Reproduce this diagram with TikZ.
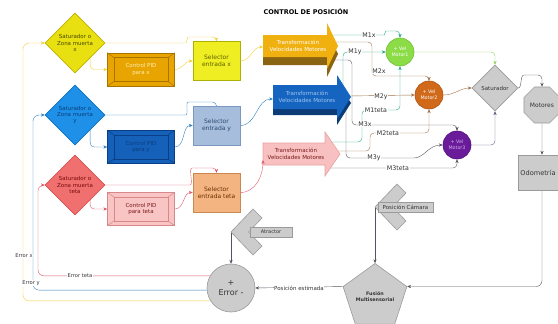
\documentclass[tikz,border=0pt]{standalone}
\usepackage{fontspec}
\setmainfont{DejaVu Sans}
\usetikzlibrary{shapes.geometric,arrows.meta,calc}
\pgfdeclarelayer{bg}
\pgfsetlayers{bg,main}
\definecolor{cYel}{HTML}{E8E010}\definecolor{cYelD}{HTML}{C0B000}\definecolor{cYelT}{HTML}{4A4A00}
\definecolor{cPidX}{HTML}{E8A400}\definecolor{cPidXD}{HTML}{A87400}\definecolor{cPidXT}{HTML}{FFF0B0}
\definecolor{cSelX}{HTML}{EEEE22}\definecolor{cSelXD}{HTML}{B0B000}\definecolor{cSelXT}{HTML}{606000}
\definecolor{cGold}{HTML}{F0B010}\definecolor{cGoldS}{HTML}{8A6410}
\definecolor{cBlu}{HTML}{1E90E8}\definecolor{cBluD}{HTML}{1070C0}\definecolor{cBluT}{HTML}{0B3D7A}
\definecolor{cPidY}{HTML}{1560B8}\definecolor{cPidYD}{HTML}{0A3F85}\definecolor{cPidYT}{HTML}{0A3F80}
\definecolor{cSelY}{HTML}{A6BEDC}\definecolor{cSelYD}{HTML}{7A98C0}\definecolor{cSelYT}{HTML}{2A4A70}
\definecolor{cBArr}{HTML}{1565C0}\definecolor{cBArrS}{HTML}{0B3C78}\definecolor{cBArrT}{HTML}{A0C4F0}
\definecolor{cPnk}{HTML}{F07070}\definecolor{cPnkD}{HTML}{D85050}\definecolor{cPnkT}{HTML}{7A0A0A}
\definecolor{cPidT}{HTML}{F8C4C4}\definecolor{cPidTD}{HTML}{D88888}\definecolor{cPidTT}{HTML}{7A1A1A}
\definecolor{cSelT}{HTML}{F4B482}\definecolor{cSelTD}{HTML}{C88850}\definecolor{cSelTT}{HTML}{6A3000}
\definecolor{cPArr}{HTML}{F8C0C0}\definecolor{cPArrD}{HTML}{E8A0A0}
\definecolor{cYL}{HTML}{F0D038}\definecolor{cBL}{HTML}{3080C0}\definecolor{cPL}{HTML}{E05A6C}
\definecolor{cTeal}{HTML}{22A880}\definecolor{cBrn}{HTML}{A0704A}\definecolor{cDG}{HTML}{55555F}
\definecolor{cGrn}{HTML}{8CDC48}\definecolor{cGrnD}{HTML}{70C030}\definecolor{cGrnL}{HTML}{8CD058}
\definecolor{cOrg}{HTML}{D06A1A}\definecolor{cOrgD}{HTML}{B05010}
\definecolor{cPur}{HTML}{6A1B9A}\definecolor{cPurD}{HTML}{501080}\definecolor{cPurT}{HTML}{D0B0F0}
\definecolor{cGry}{HTML}{CCCCCC}\definecolor{cGryD}{HTML}{9A9A9A}\definecolor{cTxt}{HTML}{333333}
\definecolor{cM3}{HTML}{5A5A80}
\newcommand\bevelbox[2]{%
  \draw[#2, line width=0.5pt] ($(#1.north west)+(7,5)$) rectangle ($(#1.south east)+(-7,-5)$);
  \draw[#2, line width=0.5pt] (#1.north west) -- ($(#1.north west)+(7,5)$)
    (#1.north east) -- ($(#1.north east)+(-7,5)$)
    (#1.south west) -- ($(#1.south west)+(7,-5)$)
    (#1.south east) -- ($(#1.south east)+(-7,-5)$);}
\begin{document}
\begin{tikzpicture}[x=1pt,y=-1pt,>={Stealth[length=3.8pt,width=3.2pt]},line width=0.9pt,
  every node/.style={font=\fontsize{5.5}{6.4}\selectfont,align=center,inner sep=0pt},
  dia/.style={diamond,aspect=1,minimum width=60,minimum height=60,line width=0.6pt},
  pid/.style={rectangle,minimum width=67,minimum height=33,line width=0.6pt},
  sel/.style={rectangle,minimum width=47,minimum height=39,line width=0.6pt,font=\fontsize{6}{7.4}\selectfont},
  motc/.style={circle,minimum size=28,line width=0.6pt,font=\fontsize{4.8}{5.8}\selectfont},
  gshape/.style={fill=cGry,draw=cGryD,line width=0.6pt,text=cTxt},
  lbl/.style={fill=white,inner sep=0.5pt,text=cTxt,font=\fontsize{6.3}{7}\selectfont},
  elbl/.style={fill=white,inner sep=0.5pt,text=cTxt,font=\fontsize{5.2}{6}\selectfont},
  conn/.style={->,rounded corners=4pt}]
\useasboundingbox (0,0) rectangle (558,324);

\node[font=\bfseries\fontsize{6.5}{8}\selectfont] (title) at (306,12) {CONTROL DE POSICIÓN};

% diamonds
\node[dia,fill=cYel,draw=cYelD,text=cYelT] (dx) at (75,43) {Saturador o\\Zona muerta\\x};
\node[dia,fill=cBlu,draw=cBluD,text=cBluT] (dy) at (75,115) {Saturador o\\Zona muerta\\y};
\node[dia,fill=cPnk,draw=cPnkD,text=cPnkT] (dt) at (75,185) {Saturador o\\Zona muerta\\teta};

% PID boxes
\node[pid,fill=cPidX,draw=cPidXD,text=cPidXT] (pidx) at (141,69.5) {Control PID\\para x};
\bevelbox{pidx}{cPidXD}
\node[pid,fill=cPidY,draw=cPidYD,text=cPidYT] (pidy) at (141,147) {Control PID\\para y};
\bevelbox{pidy}{cPidYD}
\node[pid,fill=cPidT,draw=cPidTD,text=cPidTT] (pidt) at (141,209) {Control PID\\para teta};
\bevelbox{pidt}{cPidTD}

% selectors
\node[sel,fill=cSelX,draw=cSelXD,text=cSelXT] (selx) at (216.5,61) {Selector\\entrada x};
\node[sel,fill=cSelY,draw=cSelYD,text=cSelYT] (sely) at (216.5,125.5) {Selector\\entrada y};
\node[sel,fill=cSelT,draw=cSelTD,text=cSelTT] (selt) at (216.5,192.5) {Selector\\entrada teta};

% transformation arrows
\fill[cGoldS] (263,43) -- (327,43) -- (327,31) -- (338,54) -- (327,77) -- (327,65) -- (263,65) -- cycle;
\fill[cGold] (263,35) -- (327,35) -- (327,23) -- (338,46) -- (327,69) -- (327,57) -- (263,57) -- cycle;
\node[text=white] (tx) at (298,46) {Transformación\\Velocidades Motores};
\coordinate (txin) at (263,47);

\fill[cBArrS] (273,91) -- (337,91) -- (337,81) -- (351,103) -- (337,125) -- (337,115) -- (273,115) -- cycle;
\fill[cBArr] (273,85) -- (337,85) -- (337,75) -- (351,97) -- (337,119) -- (337,109) -- (273,109) -- cycle;
\node[text=cBArrT] (ty) at (307,97) {Transformación\\Velocidades Motores};
\coordinate (tyin) at (273,99);

\filldraw[fill=cPArr,draw=cPArrD,line width=0.6pt] (263,143) -- (325,143) -- (325,132) -- (340,154) -- (325,176) -- (325,165) -- (263,165) -- cycle;
\node[text=cPidTT] (tt) at (296,154) {Transformación\\Velocidades Motores};
\coordinate (ttin) at (263,160);

% motor sum circles
\node[motc,fill=cGrn,draw=cGrnD,text=white] (mot1) at (400,52) {+ Vel\\Motor1};
\node[motc,fill=cOrg,draw=cOrgD,text=white] (mot2) at (429,95) {+ Vel\\Motor2};
\node[motc,fill=cPur,draw=cPurD,text=cPurT] (mot3) at (457,145) {+ Vel\\Motor3};

% right side
\node[diamond,aspect=1,minimum width=46,minimum height=46,gshape] (sat) at (495,88) {Saturador};
\node[regular polygon,regular polygon sides=8,minimum size=39,gshape,font=\fontsize{6}{7}\selectfont] (mtr) at (542,105) {Motores};
\node[rectangle,minimum width=48,minimum height=35,gshape] (odo) at (542,172.5) {};
\node[font=\fontsize{6.6}{8}\selectfont,text=cTxt] (odot) at (538,172.5) {Odometría};
\node[regular polygon,regular polygon sides=5,minimum size=60,gshape,font=\bfseries\fontsize{4.8}{6}\selectfont] (fus) at (375,297) {Fusión\\Multisensorial};
\node[circle,minimum size=48,gshape,font=\fontsize{8}{10}\selectfont] (err) at (231,288) {+\\Error -};

% chevrons
\filldraw[gshape] (231,232) -- (253,209) -- (262,218) -- (248.6,232) -- (262,246) -- (253,255) -- cycle;
\node[rectangle,minimum width=42,minimum height=10,gshape,font=\fontsize{5}{6}\selectfont] (atr) at (271,232) {Atractor};
\coordinate (atrtip) at (231,232);
\filldraw[gshape] (375,207) -- (397,184) -- (406,193) -- (392.6,207) -- (406,221) -- (397,230) -- cycle;
\node[rectangle,minimum width=55,minimum height=10,gshape] (cam) at (405.5,207) {Posición Cámara};
\coordinate (camtip) at (375,207);

% M start coordinates
\coordinate (m1xs) at (333,35);
\coordinate (m1ys) at (343,90);
\coordinate (m2xs) at (336,42);
\coordinate (m3xs) at (334,60);
\coordinate (m3ys) at (346,100);
\coordinate (m2ys) at (349,96);
\coordinate (m1ts) at (332,142);
\coordinate (m2ts) at (337,151);
\coordinate (m3ts) at (330,168);

\begin{pgfonlayer}{bg}
% x row
\draw[cYL,conn] (dx.east) -- (182,43) to[out=0,in=180] (192,37) -| (selx.north);
\draw[cYL,conn] (dx.south east) |- (pidx.west);
\draw[cYL,->] (pidx.east) to[out=0,in=180] (selx.west);
\draw[cYL,->] (selx.east) to[out=0,in=180] (txin);
% y row
\draw[cBL,conn] (dy.east) -- (182,115) to[out=0,in=180] (192,102) -| (sely.north);
\draw[cBL,conn] (dy.south east) |- (pidy.west);
\draw[cBL,->] (pidy.east) to[out=0,in=180] (sely.west);
\draw[cBL,->] (sely.east) to[out=0,in=180] (tyin);
% teta row
\draw[cPL,conn] (dt.east) -- (186,185) to[out=0,in=180] (196,168) -| (selt.north);
\draw[cPL,conn] (dt.south east) |- (pidt.west);
\draw[cPL,->] (pidt.east) to[out=0,in=180] (selt.west);
% error feedback
\draw[cPL,conn,rounded corners=6pt] (err.150) -| (38,200) |- (dt.west);
\draw[cBL,conn,rounded corners=6pt] (err.185) -| (33,200) |- (dy.west);
\draw[cYL,conn,rounded corners=6pt] (err.212) -| (23,200) |- (dx.west);
% M lines
\draw[cTeal,conn] (m1xs) -- (380,35) to[out=0,in=180] (390,31) -| (mot1.north);
\draw[cTeal,conn] (m1ys) |- (mot1.west);
\draw[cBrn,conn] (m2xs) -| (372,76) -| (mot2.north);
\draw[cDG,conn] (m3xs) -| (352,125) -| (mot3.north);
\draw[cDG,conn] (m3ys) |- (410,158) to[out=0,in=180] (mot3.west);
\draw[cBrn,->] (m2ys) -- (mot2.west);
\draw[cTeal,conn] (m1ts) -| (362,110) -| (mot1.south);
\draw[cBrn,conn] (m2ts) -| (370,133) -| (mot2.south);
\draw[cDG,conn] (m3ts) -| (mot3.south);
% to saturator and plant
\draw[cGrnL,conn] (mot1.east) -| (sat.north);
\draw[cBrn,->] (mot2.east) to[out=0,in=180] (sat.west);
\draw[cM3,conn] (mot3.east) -| (sat.south);
\draw[cDG,conn] (sat.east) .. controls (522,88) and (520,75) .. (528,75) -| (mtr.north);
\draw[cDG,->] (mtr.south) -- (odo.north);
\draw[cDG,conn,rounded corners=6pt] (odo.south) |- (fus.corner 5);
\draw[cDG,->] (fus.corner 2) -- (err.east);
\draw[cDG,->] (camtip) -- (fus.corner 1);
\draw[cDG,->] (atrtip) -- (err.north);
\end{pgfonlayer}
\draw[cPL,->] (selt.east) to[out=0,in=-90] (ttin);

% labels
\node[lbl] (lm1x) at (369,35) {M1x};
\node[lbl] (lm1y) at (355,52) {M1y};
\node[lbl] (lm2x) at (379,71) {M2x};
\node[lbl] (lm2y) at (381,96.5) {M2y};
\node[lbl] (lm1t) at (376,110) {M1teta};
\node[lbl] (lm3x) at (365,124.5) {M3x};
\node[lbl] (lm2t) at (388,133) {M2teta};
\node[lbl] (lm3y) at (374,158) {M3y};
\node[lbl] (lm3t) at (398,168) {M3teta};
\node[elbl] (lerrx) at (24,256) {Error x};
\node[elbl] (lerry) at (31,283) {Error y};
\node[elbl] (lerrt) at (80,276) {Error teta};
\node[elbl,font=\fontsize{5.5}{6.5}\selectfont] (lpos) at (299,288) {Posición estimada};
\end{tikzpicture}
\end{document}
